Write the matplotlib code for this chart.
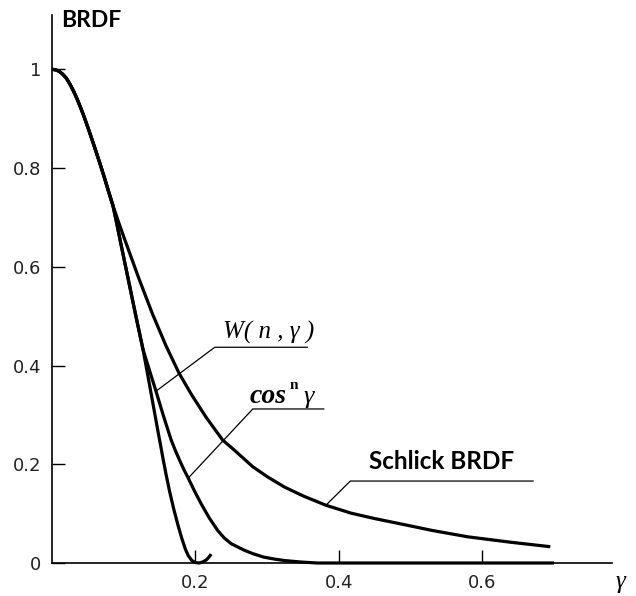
import numpy as np
import matplotlib
matplotlib.use('Agg')
import matplotlib.pyplot as plt

# common start of the three curves (gamma, BRDF)
top_x = [0.0, 0.005, 0.01, 0.015, 0.02, 0.025, 0.03, 0.035, 0.04, 0.045, 0.052,
         0.059, 0.066, 0.073, 0.079, 0.085]
top_y = [1.0, 0.999, 0.996, 0.990, 0.982, 0.970, 0.956, 0.940, 0.922, 0.903, 0.874,
         0.844, 0.813, 0.781, 0.752, 0.724]

# steep curve with the small hook at 0.2
steep_x = top_x + [0.09, 0.096, 0.101, 0.106, 0.111, 0.117, 0.122, 0.127, 0.133, 0.138,
                   0.143, 0.148, 0.152, 0.155, 0.159, 0.164, 0.17, 0.176, 0.181, 0.186,
                   0.19, 0.195, 0.2, 0.205, 0.21, 0.215, 0.219, 0.222]
steep_y = top_y + [0.69, 0.647, 0.612, 0.577, 0.542, 0.50, 0.466, 0.432, 0.385, 0.345,
                   0.305, 0.265, 0.234, 0.21, 0.18, 0.145, 0.108, 0.075, 0.05, 0.028,
                   0.015, 0.005, 0.001, 0.0, 0.002, 0.006, 0.012, 0.018]

# middle curve running along the axis up to 0.7
mid_x = top_x + [0.09, 0.096, 0.101, 0.106, 0.111, 0.117, 0.122, 0.127, 0.136, 0.145,
                 0.155, 0.166, 0.172, 0.178, 0.184, 0.19, 0.199, 0.208, 0.219, 0.231,
                 0.24, 0.25, 0.268, 0.28, 0.295, 0.31, 0.324, 0.347, 0.37, 0.7]
mid_y = top_y + [0.69, 0.647, 0.612, 0.577, 0.542, 0.50, 0.466, 0.432, 0.39, 0.348,
                 0.30, 0.25, 0.228, 0.208, 0.189, 0.172, 0.145, 0.12, 0.092, 0.066,
                 0.051, 0.039, 0.026, 0.019, 0.012, 0.008, 0.005, 0.002, 0.0, 0.0]

# Schlick BRDF
schlick_x = top_x + [0.092, 0.1, 0.11, 0.121, 0.14, 0.159, 0.177, 0.195, 0.215,
                     0.238, 0.254, 0.28, 0.3, 0.324, 0.35, 0.382, 0.417, 0.45, 0.487,
                     0.53, 0.58, 0.64, 0.695]
schlick_y = top_y + [0.694, 0.661, 0.621, 0.577, 0.505, 0.44, 0.385, 0.34, 0.295,
                     0.249, 0.229, 0.195, 0.175, 0.154, 0.136, 0.117, 0.101, 0.09, 0.079,
                     0.066, 0.053, 0.042, 0.033]

y_ticks = [0, 0.2, 0.4, 0.6, 0.8, 1]
y_tick_labels = ['0', '0.2', '0.4', '0.6', '0.8', '1']
x_ticks = [0.2, 0.4, 0.6]
x_tick_labels = ['0.2', '0.4', '0.6']

# leader lines for the curve labels
w_leader = ([0.145, 0.227, 0.356], [0.348, 0.437, 0.437])
cos_leader = ([0.19, 0.28, 0.379], [0.172, 0.312, 0.312])
schlick_leader = ([0.382, 0.416, 0.671], [0.117, 0.166, 0.166])

fig = plt.figure(figsize=(6.36, 5.96), dpi=100)
ax = fig.add_axes([52 / 636, 33 / 596, 560 / 636, 548 / 596])

lw = 2.3
for cx, cy in [(steep_x, steep_y), (mid_x, mid_y), (schlick_x, schlick_y)]:
    ax.plot(cx, cy, color='black', lw=lw, solid_joinstyle='round',
            solid_capstyle='butt', clip_on=False)

for lx, ly in [w_leader, cos_leader, schlick_leader]:
    ax.plot(lx, ly, color='black', lw=0.9)

ax.set_xlim(0, 0.781)
ax.set_ylim(0, 1.11)
for s in ['top', 'right']:
    ax.spines[s].set_visible(False)
for s in ['left', 'bottom']:
    ax.spines[s].set_linewidth(1.2)

tick_font = dict(family=['DejaVu Sans'], size=13, color='#222222')
ax.set_yticks(y_ticks)
ax.set_yticklabels(y_tick_labels, **tick_font)
ax.set_xticks(x_ticks)
ax.set_xticklabels(x_tick_labels, **tick_font)
ax.tick_params(axis='both', direction='in', length=9.5, width=1.0)
ax.tick_params(axis='y', pad=8)
ax.tick_params(axis='x', pad=8)

serif = ['Liberation Serif', 'DejaVu Serif']
# labels
ax.text(0.013, 1.085, 'BRDF', family=['Lato', 'DejaVu Sans'], weight='bold',
        size=16.5, va='baseline', ha='left')
ax.text(0.442, 0.19, 'Schlick BRDF', family=['Lato', 'DejaVu Sans'], weight='bold',
        size=17.5, va='baseline', ha='left')
ax.text(0.238, 0.455, 'W( n , γ )', family=serif, style='italic',
        size=18, va='baseline', ha='left')
ax.text(0.275, 0.324, 'cos', family=serif, style='italic',
        weight='bold', size=20, va='baseline', ha='left')
ax.text(0.331, 0.352, 'n', family=serif, weight='bold', size=11,
        va='baseline', ha='left')
ax.text(0.351, 0.324, 'γ', family=serif, style='italic',
        size=19, va='baseline', ha='left')
ax.text(0.786, -0.05, 'γ', family=serif, style='italic',
        size=18, va='baseline', ha='left', clip_on=False)

fig.savefig('out.png', dpi=100)
